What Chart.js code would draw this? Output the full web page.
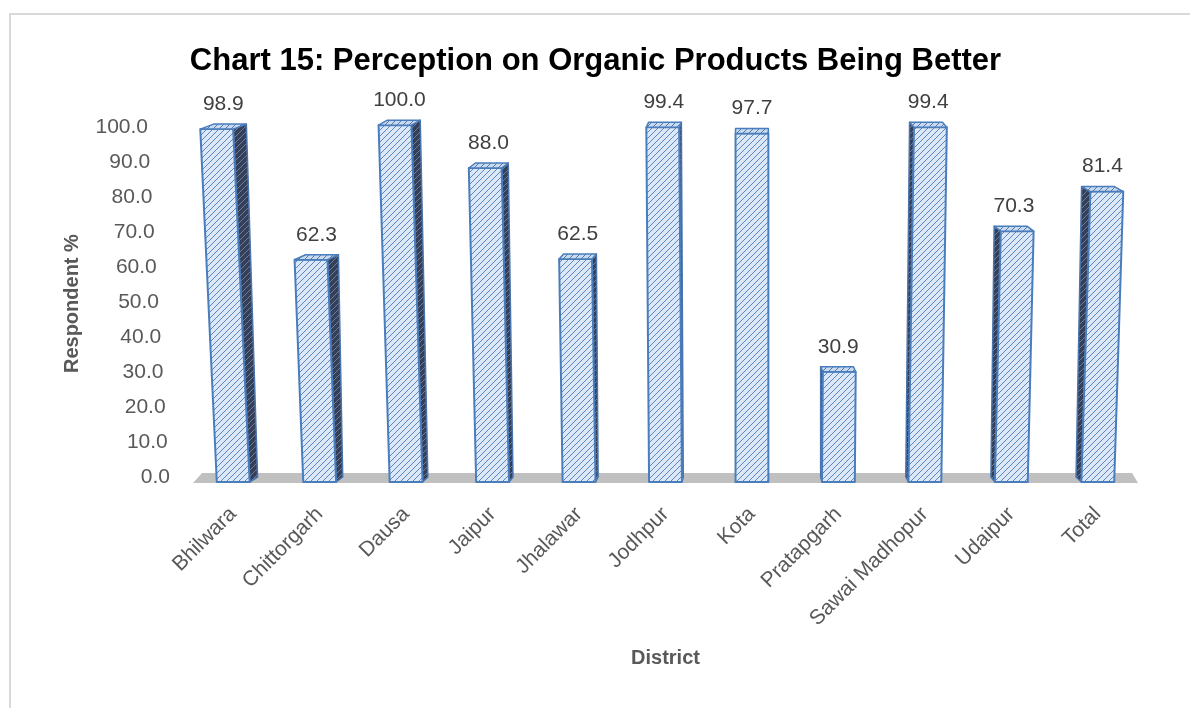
<!DOCTYPE html>
<html>
<head>
<meta charset="utf-8">
<script src="https://cdn.jsdelivr.net/npm/chart.js@4"></script>
<style>
  html, body { margin: 0; padding: 0; background: #fff; }
  #wrap { position: relative; width: 1190px; height: 708px; }
  #frame { position: absolute; left: 9px; top: 13px; right: -10px; bottom: -10px;
           border-left: 2px solid #d9d9d9; border-top: 2px solid #d9d9d9; }
  canvas { position: absolute; left: 0; top: 0; }
</style>
</head>
<body>
<div id="wrap">
  <div id="frame"></div>
  <canvas id="chart" width="1190" height="708"></canvas>
</div>
<script>
const districts = ["Bhilwara", "Chittorgarh", "Dausa", "Jaipur", "Jhalawar", "Jodhpur",
  "Kota", "Pratapgarh", "Sawai Madhopur", "Udaipur", "Total"];
const respondentPct = [98.9, 62.3, 100.0, 88.0, 62.5, 99.4, 97.7, 30.9, 99.4, 70.3, 81.4];
const yTicks = [0, 10, 20, 30, 40, 50, 60, 70, 80, 90, 100];

const FONT = "'Liberation Sans', Arial, sans-serif";

// diagonal hatch fill like the Excel pattern
function makeHatch(bg, line) {
  const c = document.createElement("canvas");
  c.width = 6;
  c.height = 6;
  const g = c.getContext("2d");
  g.fillStyle = bg;
  g.fillRect(0, 0, 6, 6);
  g.strokeStyle = line;
  g.lineWidth = 1;
  g.beginPath();
  g.moveTo(0, 6); g.lineTo(6, 0);
  g.moveTo(-1, 1); g.lineTo(1, -1);
  g.moveTo(5, 7); g.lineTo(7, 5);
  g.stroke();
  return g.createPattern(c, "repeat");
}

const ctx = document.getElementById("chart").getContext("2d");
const frontHatch = makeHatch("#dce8f7", "#5b86c0");
const sideHatch = makeHatch("#34405a", "#6f7d99");
const topHatch = makeHatch("#c9d9ee", "#4f78b0");

// perspective helpers: the view point sits above "Kota"
const CENTER = 6;
function sideDepth(i) { return (CENTER - i) * 2.2; }
function lean(i, h) { return (i - CENTER) * 0.0078 * h; }

function poly(c, pts, fill) {
  c.fillStyle = fill;
  c.beginPath();
  c.moveTo(pts[0][0], pts[0][1]);
  for (let k = 1; k < pts.length; k++) c.lineTo(pts[k][0], pts[k][1]);
  c.closePath();
  c.fill();
  c.stroke();
}

// floor band, slanted back-wall tick labels and leaning 3D columns
const fake3d = {
  id: "fake3d",
  beforeDatasetsDraw(chart) {
    const { ctx, chartArea } = chart;
    const yScale = chart.scales.y;
    const y0 = yScale.getPixelForValue(0);
    ctx.save();
    ctx.fillStyle = "#c0c0c0";
    ctx.beginPath();
    ctx.moveTo(chartArea.left + 3, y0 + 1);
    ctx.lineTo(chartArea.left + 12, y0 - 9);
    ctx.lineTo(chartArea.right - 9, y0 - 9);
    ctx.lineTo(chartArea.right - 3, y0 + 1);
    ctx.closePath();
    ctx.fill();

    // value axis labels sit on the slanted back wall
    ctx.font = "21px " + FONT;
    ctx.fillStyle = "#595959";
    ctx.textAlign = "right";
    ctx.textBaseline = "middle";
    yScale.ticks.forEach((t) => {
      const frac = (t.value - yScale.min) / (yScale.max - yScale.min);
      const py = yScale.getPixelForValue(t.value);
      const y = 477 + (py - y0) * 0.98;
      ctx.fillText(Number(t.value).toFixed(1), chartArea.left - 20 - frac * 22, y);
    });
    ctx.restore();
  },
  afterDatasetsDraw(chart) {
    const { ctx } = chart;
    const meta = chart.getDatasetMeta(0);
    ctx.save();
    ctx.lineJoin = "round";
    meta.data.forEach((bar, i) => {
      const T = bar.y;
      const B = bar.base;
      const s = lean(i, B - T);
      const dTop = sideDepth(i);
      const dBot = dTop * 0.6;
      const dy = -5;
      const L0 = bar.x - bar.width / 2, R0 = bar.x + bar.width / 2;
      const L1 = L0 + s, R1 = R0 + s;
      const e0 = dTop > 0 ? R0 : L0;
      const e1 = dTop > 0 ? R1 : L1;
      ctx.strokeStyle = "#4a74ad";
      ctx.lineWidth = 1.5;
      if (Math.abs(dTop) > 0.5) {
        poly(ctx, [[e1, T], [e1 + dTop, T + dy], [e0 + dBot, B + dy], [e0, B]], sideHatch);
      }
      ctx.lineWidth = 2;
      ctx.strokeStyle = "#4a7dbb";
      poly(ctx, [[L0, B], [L1, T], [R1, T], [R0, B]], frontHatch);
      ctx.lineWidth = 1.5;
      poly(ctx, [[L1, T], [L1 + dTop, T + dy], [R1 + dTop, T + dy], [R1, T]], topHatch);
    });

    ctx.font = "21px " + FONT;
    ctx.fillStyle = "#404040";
    ctx.textAlign = "center";
    ctx.textBaseline = "middle";
    meta.data.forEach((bar, i) => {
      const s = lean(i, bar.base - bar.y);
      ctx.fillText(respondentPct[i].toFixed(1), bar.x + s + sideDepth(i) / 2, bar.y - 25);
    });
    ctx.restore();
  }
};

new Chart(ctx, {
  type: "bar",
  data: {
    labels: districts,
    datasets: [
      {
        label: "Respondent %",
        data: respondentPct,
        backgroundColor: "rgba(0,0,0,0)",
        borderWidth: 0,
        barPercentage: 0.38,
        categoryPercentage: 1.0,
      },
    ],
  },
  options: {
    responsive: false,
    animation: false,
    layout: {
      padding: { top: 10, left: 50, right: 49, bottom: 30 },
    },
    scales: {
      y: {
        min: 0,
        max: 100,
        afterBuildTicks: (axis) => {
          axis.ticks = yTicks.map((v) => ({ value: v }));
        },
        afterFit: (axis) => {
          axis.width = 140;
        },
        grid: { display: false, drawTicks: false },
        border: { display: false },
        ticks: {
          padding: 28,
          color: "rgba(0,0,0,0)",
          font: { family: FONT, size: 21 },
          callback: (v) => Number(v).toFixed(1),
        },
        title: {
          display: true,
          text: "Respondent %",
          color: "#595959",
          font: { family: FONT, size: 20, weight: "bold" },
          padding: { top: 10, bottom: 0 },
        },
      },
      x: {
        afterFit: (axis) => {
          axis.height = 196;
        },
        grid: { display: false, drawTicks: false },
        border: { display: false },
        ticks: {
          padding: 20,
          minRotation: 45,
          maxRotation: 45,
          color: "#595959",
          font: { family: FONT, size: 21 },
        },
        title: {
          display: true,
          text: "District",
          color: "#595959",
          font: { family: FONT, size: 20, weight: "bold" },
          padding: { top: 4, bottom: 8 },
        },
      },
    },
    plugins: {
      legend: { display: false },
      tooltip: { enabled: false },
      title: {
        display: true,
        text: "Chart 15: Perception on Organic Products Being Better",
        color: "#000000",
        font: { family: FONT, size: 31, weight: "bold" },
        padding: { top: 33, bottom: 45 },
      },
    },
  },
  plugins: [fake3d],
});
</script>
</body>
</html>
